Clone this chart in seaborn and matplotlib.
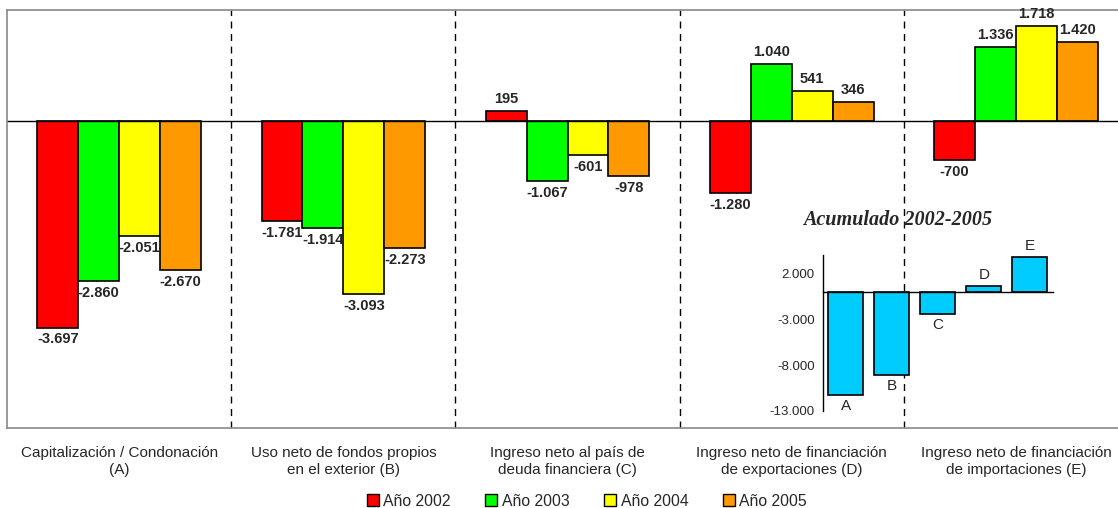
import matplotlib
matplotlib.use("Agg")
import matplotlib.pyplot as plt
import seaborn as sns
import pandas as pd
from matplotlib.patches import Patch

# data
categories = [
    "Capitalización / Condonación\n(A)",
    "Uso neto de fondos propios\nen el exterior (B)",
    "Ingreso neto al país de\ndeuda financiera (C)",
    "Ingreso neto de financiación\nde exportaciones (D)",
    "Ingreso neto de financiación\nde importaciones (E)",
]
years = ["Año 2002", "Año 2003", "Año 2004", "Año 2005"]
v2002 = [-3697, -1781, 195, -1280, -700]
v2003 = [-2860, -1914, -1067, 1040, 1336]
v2004 = [-2051, -3093, -601, 541, 1718]
v2005 = [-2670, -2273, -978, 346, 1420]

acum_letters = ["A", "B", "C", "D", "E"]
acum_values = [-11278, -9061, -2451, 647, 3774]

colors = ["#FF0000", "#00FF00", "#FFFF00", "#FF9900"]


def fmt(v):
    return f"{v:,.0f}".replace(",", ".")


rows = []
for year, vals in zip(years, [v2002, v2003, v2004, v2005]):
    for cat, v in zip(categories, vals):
        rows.append({"cat": cat, "year": year, "val": v})
df = pd.DataFrame(rows)

sns.set_style("white")
plt.rcParams["font.family"] = ["Liberation Sans", "DejaVu Sans"]

fig = plt.figure(figsize=(11.18, 5.08), dpi=100)
ax = fig.add_axes([0.0063, 0.1575, 1.0027, 0.8228])

sns.barplot(data=df, x="cat", y="val", hue="year", palette=colors, saturation=1,
            width=0.73, edgecolor="black", linewidth=1.2, ax=ax, legend=False)

for cont in ax.containers:
    ax.bar_label(cont, labels=[fmt(b.get_height()) for b in cont],
                 padding=3.5, fontsize=10.5, fontweight="bold")

ax.set_xlim(-0.5, 4.5)
ax.set_ylim(-5500, 2000)
ax.axhline(0, color="black", lw=1)
for xv in [0.5, 1.5, 2.5, 3.5]:
    ax.axvline(xv, color="black", lw=1, ls=(0, (5, 4)))
ax.set_yticks([])
ax.set_xlabel("")
ax.set_ylabel("")
ax.tick_params(axis="x", length=0, pad=13, labelsize=11)
for lab in ax.get_xticklabels():
    lab.set_linespacing(1.3)
for s in ["top", "bottom", "left"]:
    ax.spines[s].set_color("#888888")
    ax.spines[s].set_linewidth(1.2)
ax.spines["right"].set_visible(False)

handles = [Patch(facecolor=c, edgecolor="black", lw=1) for c in colors]
fig.legend(handles, years, loc="lower center", bbox_to_anchor=(0.525, -0.029),
           ncol=4, frameon=False, fontsize=11.3, handlelength=0.75,
           handleheight=0.75, handletextpad=0.3, columnspacing=2.2)

# inset
ins = fig.add_axes([0.736, 0.191, 0.2057, 0.307])
ins.patch.set_alpha(0)
sns.barplot(x=acum_letters, y=acum_values, color="#00CCFF", saturation=1, width=0.76,
            edgecolor="black", linewidth=1.2, ax=ins)
ins.bar_label(ins.containers[0], labels=acum_letters, padding=3, fontsize=11)
ins.set_xlim(-0.5, 4.5)
ins.set_ylim(-13000, 4000)
ins.set_yticks([2000, -3000, -8000, -13000])
ins.set_yticklabels([fmt(t) for t in [2000, -3000, -8000, -13000]], fontsize=9.5)
ins.set_xticks([-0.5, 0.5, 1.5, 2.5, 3.5, 4.5])
ins.set_xticklabels([])
ins.spines["bottom"].set_position(("data", 0))
ins.spines["top"].set_visible(False)
ins.spines["right"].set_visible(False)
for s in ["bottom", "left"]:
    ins.spines[s].set_color("black")
    ins.spines[s].set_linewidth(1)
ins.tick_params(axis="both", direction="out", length=4, width=1, color="#555555", pad=2)
ins.tick_params(axis="x", direction="in", length=3)
ins.text(0.326, 1.225, "Acumulado 2002-2005", transform=ins.transAxes,
         ha="center", va="center", fontsize=14.5, fontweight="bold", style="italic",
         family=["Liberation Serif", "DejaVu Serif"])

fig.savefig("out.png", dpi=100)
plt.close(fig)
